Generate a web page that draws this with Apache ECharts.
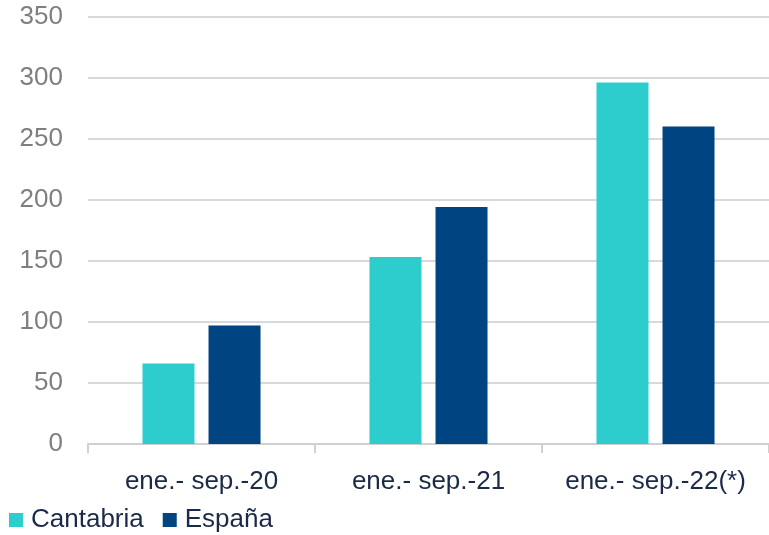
<!DOCTYPE html>
<html>
<head>
<meta charset="utf-8">
<script src="https://cdn.jsdelivr.net/npm/echarts@6/dist/echarts.min.js"></script>
<style>
  html, body { margin: 0; padding: 0; background: #fff; }
  #chart { width: 769px; height: 535px; }
</style>
</head>
<body>
<div id="chart"></div>
<script>
// Periods on the x axis
const categories = ["ene.- sep.-20", "ene.- sep.-21", "ene.- sep.-22(*)"];

// Series values
const cantabria = [66, 153, 296];
const espana = [97, 194, 260];

const chart = echarts.init(document.getElementById("chart"));

const options = {
  animation: false,
  textStyle: { fontFamily: "Liberation Sans, Arial, sans-serif" },
  grid: { left: 88, width: 686, top: 16.5, bottom: 91, containLabel: false },
  legend: {
    left: 9,
    top: 507,
    padding: 0,
    itemWidth: 14,
    itemHeight: 14,
    itemGap: 19,
    icon: "rect",
    textStyle: { fontSize: 26, color: "#1b2a47", padding: [0, 0, 0, 3] },
    data: ["Cantabria", "España"]
  },
  xAxis: {
    type: "category",
    data: categories,
    axisLine: { lineStyle: { color: "#d0d0d0", width: 2 } },
    axisTick: { show: true, length: 9, lineStyle: { color: "#d0d0d0", width: 2 } },
    axisLabel: { fontSize: 26, color: "#1b2a47", margin: 25, interval: 0 }
  },
  yAxis: {
    type: "value",
    min: 0,
    max: 350,
    interval: 50,
    axisLine: { show: false },
    axisTick: { show: false },
    axisLabel: { fontSize: 26, color: "#7f7f7f", margin: 25 },
    splitLine: { lineStyle: { color: "#d9d9d9", width: 2 } }
  },
  series: [
    {
      name: "Cantabria",
      type: "bar",
      data: cantabria,
      barWidth: 52,
      barGap: "27%",
      itemStyle: { color: "#2ecdcd" }
    },
    {
      name: "España",
      type: "bar",
      data: espana,
      barWidth: 52,
      itemStyle: { color: "#004481" }
    }
  ]
};

chart.setOption(options);
</script>
</body>
</html>
